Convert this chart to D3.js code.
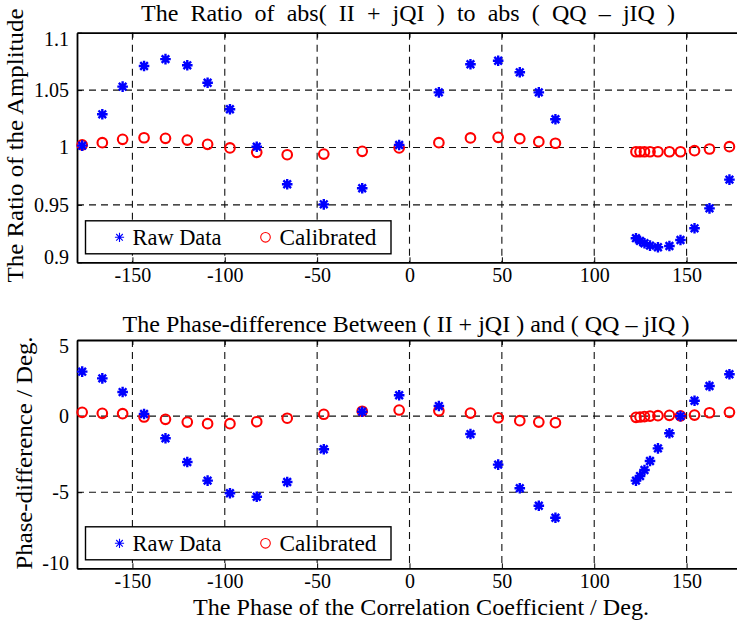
<!DOCTYPE html>
<html><head><meta charset="utf-8">
<script src="https://cdn.jsdelivr.net/npm/d3@7"></script>
<style>
html,body{margin:0;padding:0;background:#fff;}
svg, svg text{font-family:"Liberation Serif","Times New Roman",serif !important;}
</style></head>
<body><svg id="c" width="737" height="626"></svg>
<script>
// ---- data ----
const phaseDeg = [-177.2, -166.3, -155.3, -143.7, -132.1, -120.3, -109.3, -97.2, -82.7, -66.2, -46.4, -25.6, -5.6,
  15.9, 33.0, 48.0, 59.7, 70.0, 79.0, 122.6, 124.8, 127.2, 130.2, 134.5, 140.7, 146.7, 154.3, 162.4, 173.2];
const ratioRaw = [1.0016, 1.0289, 1.053, 1.071, 1.077, 1.0716, 1.0564, 1.0333, 1.0007, 0.968, 0.9505, 0.9645, 1.0022,
  1.048, 1.0725, 1.0756, 1.0655, 1.048, 1.0246, 0.921, 0.9186, 0.9166, 0.9145, 0.9131, 0.9142, 0.9194, 0.9296, 0.947, 0.972];
const ratioCal = [1.0022, 1.0042, 1.0071, 1.0085, 1.008, 1.0065, 1.0028, 0.9996, 0.9958, 0.9937, 0.9943, 0.9967, 0.9996,
  1.0042, 1.0083, 1.0089, 1.0077, 1.0051, 1.0037, 0.9963, 0.9963, 0.9963, 0.9963, 0.9963, 0.9963, 0.9963, 0.9972, 0.9987, 1.0007];
const phaseRaw = [2.92, 2.48, 1.58, 0.14, -1.46, -3.02, -4.24, -5.07, -5.3, -4.33, -2.18, 0.29, 1.37,
  0.66, -1.18, -3.19, -4.74, -5.89, -6.68, -4.24, -3.94, -3.54, -2.95, -2.12, -1.13, 0.0, 1.01, 1.98, 2.75];
const phaseCal = [0.25, 0.18, 0.16, -0.06, -0.21, -0.39, -0.5, -0.5, -0.37, -0.14, 0.12, 0.32, 0.4,
  0.35, 0.2, -0.11, -0.3, -0.39, -0.43, -0.08, -0.06, -0.03, 0.0, 0.03, 0.05, 0.02, 0.07, 0.22, 0.25];
const xTicks = [-150, -100, -50, 0, 50, 100, 150];
const ratioTicks = [0.9, 0.95, 1, 1.05, 1.1];
const phaseTicks = [-10, -5, 0, 5];
const titles = ["The Ratio of abs( II + jQI ) to abs ( QQ \u2013 jIQ )", "The Phase-difference Between ( II + jQI ) and ( QQ \u2013 jIQ )"];
const yLabels = ["The Ratio of the Amplitude", "Phase-difference / Deg."];
const xLabel = "The Phase of the Correlation Coefficient / Deg.";
const legendNames = ["Raw Data", "Calibrated"];

// ---- drawing ----
const FONT = "'Liberation Serif', 'Times New Roman', serif";
const svg = d3.select("#c");
svg.append("rect").attr("width", 737).attr("height", 626).attr("fill", "#fff");
const BLUE = "#0000ff", RED = "#ff0000";
const star = s => `M${-s},0H${s}M0,${-s}V${s}M${-s*0.72},${-s*0.72}L${s*0.72},${s*0.72}M${-s*0.72},${s*0.72}L${s*0.72},${-s*0.72}`;

const x = d3.scaleLinear().domain([-180, 180]).range([77, 742]);

const panels = [
  {top: 32.7, bottom: 262.3, dom: [0.9, 1.1], ticks: ratioTicks, grid: [0.95, 1, 1.05], raw: ratioRaw, cal: ratioCal,
   title: titles[0], titleX: 408, titleY: 21, titleW: 534,
   ylab: yLabels[0], ylabX: 23, ylabW: 274, ylabC: 145.5},
  {top: 340, bottom: 568.3, dom: [-10, 5], ticks: phaseTicks, grid: [-5, 0], raw: phaseRaw, cal: phaseCal,
   title: titles[1], titleX: 406, titleY: 332, titleW: 566,
   ylab: yLabels[1], ylabX: 32, ylabW: 233, ylabC: 453}
];

panels.forEach((p, pi) => {
  const y = d3.scaleLinear().domain(p.dom).range([p.bottom, p.top]);
  const g = svg.append("g");
  // grid
  g.selectAll(".vg").data(xTicks).join("line")
    .attr("x1", d => x(d)).attr("x2", d => x(d)).attr("y1", p.top).attr("y2", p.bottom)
    .attr("stroke", "#111").attr("stroke-width", 1.1).attr("stroke-dasharray", "7,5");
  g.selectAll(".hg").data(p.grid).join("line")
    .attr("x1", x.range()[0]).attr("x2", x.range()[1]).attr("y1", d => y(d)).attr("y2", d => y(d))
    .attr("stroke", "#111").attr("stroke-width", 1.1).attr("stroke-dasharray", "7,5");
  // axes with inward ticks
  const xb = g.append("g").attr("transform", `translate(0,${p.bottom})`)
    .call(d3.axisBottom(x).tickValues(xTicks).tickSizeInner(-5).tickSizeOuter(0).tickPadding(6).tickFormat(d => String(d)));
  const xt = g.append("g").attr("transform", `translate(0,${p.top})`)
    .call(d3.axisTop(x).tickValues(xTicks).tickSizeInner(-5).tickSizeOuter(0).tickFormat(""));
  const yl = g.append("g").attr("transform", `translate(${x.range()[0]},0)`)
    .call(d3.axisLeft(y).tickValues(p.ticks).tickSizeInner(-5).tickSizeOuter(0).tickPadding(8).tickFormat(d => String(d)));
  [xb, xt, yl].forEach(a => {
    a.attr("font-family", FONT);
    a.select(".domain").attr("stroke", "#000").attr("stroke-width", 1.8);
    a.selectAll(".tick line").attr("stroke", "#000").attr("stroke-width", 1);
    a.selectAll("text").attr("fill", "#000").attr("font-size", 20).style("font-family", FONT);
  });
  const lo = p.dom[0], hi = p.dom[1];
  yl.selectAll(".tick text").attr("dy", d => d === hi ? "0.62em" : d === lo ? "0.05em" : "0.32em");
  // markers
  const pts = phaseDeg.map((d, i) => ({x: d, raw: p.raw[i], cal: p.cal[i]}));
  g.selectAll(".cal").data(pts).join("circle")
    .attr("cx", d => x(d.x)).attr("cy", d => y(d.cal)).attr("r", 4.8)
    .attr("fill", "none").attr("stroke", RED).attr("stroke-width", 2.1);
  g.selectAll(".raw").data(pts).join("path")
    .attr("transform", d => `translate(${x(d.x)},${y(d.raw)})`).attr("d", star(5.3))
    .attr("fill", "none").attr("stroke", BLUE).attr("stroke-width", 2.4);
  // title: natural 24px text, widened at the word gaps to the reference's extent
  const t = svg.append("text").attr("x", p.titleX).attr("y", p.titleY).attr("text-anchor", "middle")
    .attr("font-size", 24).style("font-family", FONT).text(p.title);
  const natural = t.node().getComputedTextLength();
  const gaps = (p.title.match(/ /g) || []).length;
  if (p.titleW > natural + 4) t.style("word-spacing", ((p.titleW - natural) / gaps).toFixed(2) + "px");
  // y label
  svg.append("text").attr("transform", `translate(${p.ylabX},${p.ylabC}) rotate(-90)`).attr("text-anchor", "middle")
    .attr("font-size", 24).style("font-family", FONT)
    .attr("textLength", p.ylabW).attr("lengthAdjust", "spacingAndGlyphs").text(p.ylab);
  // legend
  const lx = 85.5, lw = 305.5, lh = 33;
  const ly = p.bottom - 8.5 - lh;
  const lg = svg.append("g");
  lg.append("rect").attr("x", lx).attr("y", ly).attr("width", lw).attr("height", lh)
    .attr("fill", "#fff").attr("stroke", "#000").attr("stroke-width", 1.4);
  lg.append("path").attr("transform", `translate(${lx + 34},${ly + lh / 2})`).attr("d", star(4.6))
    .attr("fill", "none").attr("stroke", BLUE).attr("stroke-width", 1.1);
  lg.append("text").attr("x", lx + 47).attr("y", ly + lh / 2 + 8).attr("font-size", 23).style("font-family", FONT)
    .attr("textLength", 89).attr("lengthAdjust", "spacingAndGlyphs").text(legendNames[0]);
  lg.append("circle").attr("cx", lx + 180).attr("cy", ly + lh / 2).attr("r", 4.8)
    .attr("fill", "none").attr("stroke", RED).attr("stroke-width", 1.1);
  lg.append("text").attr("x", lx + 194).attr("y", ly + lh / 2 + 8).attr("font-size", 23).style("font-family", FONT)
    .attr("textLength", 97).attr("lengthAdjust", "spacingAndGlyphs").text(legendNames[1]);
});

svg.append("text").attr("x", 421).attr("y", 615).attr("text-anchor", "middle").attr("font-size", 24)
  .style("font-family", FONT)
  .attr("textLength", 456).attr("lengthAdjust", "spacingAndGlyphs").text(xLabel);
</script></body></html>
